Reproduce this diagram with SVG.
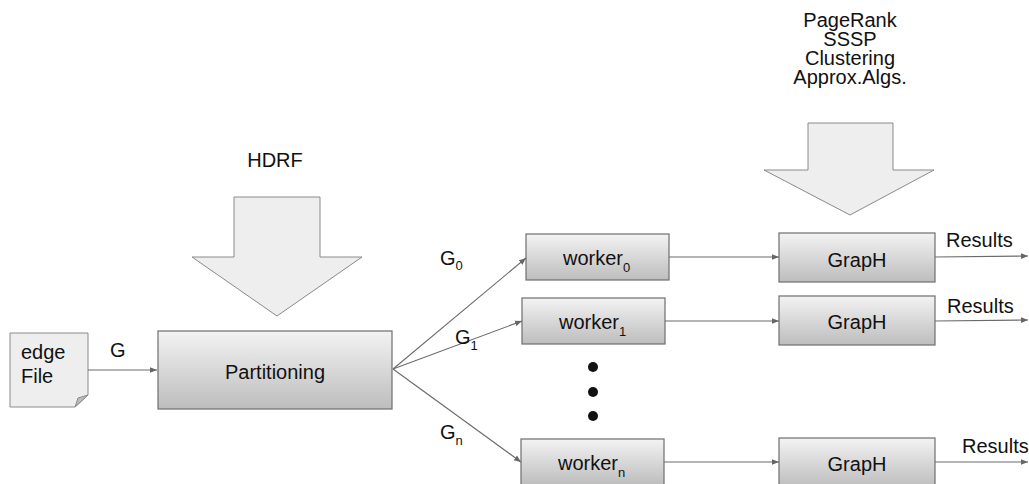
<svg xmlns="http://www.w3.org/2000/svg" width="1029" height="484" viewBox="0 0 1029 484">
  <defs>
    <linearGradient id="boxFill" x1="0" y1="0" x2="0" y2="1">
      <stop offset="0" stop-color="#f3f3f3"/>
      <stop offset="1" stop-color="#bdbdbd"/>
    </linearGradient>
    <marker id="arrow" viewBox="0 0 10 10" refX="10" refY="5" markerWidth="7" markerHeight="7" markerUnits="userSpaceOnUse" orient="auto">
      <path d="M0,1 L10,5 L0,9 Z" fill="#666"/>
    </marker>
    <style>
      .box { fill: url(#boxFill); stroke: #6e6e6e; stroke-width: 1.2; }
      .bigArrow { fill: #eeeeee; stroke: #8a8a8a; stroke-width: 1; }
      .conn { stroke: #6a6a6a; stroke-width: 1.1; fill: none; marker-end: url(#arrow); }
      text { font-family: "Liberation Sans", Arial, sans-serif; font-size: 20px; fill: #111; }
      .mid { text-anchor: middle; }
      .sub { font-size: 13px; }
    </style>
  </defs>

  <rect width="1029" height="484" fill="#ffffff"/>

  <!-- input document -->
  <g id="edgeFile">
    <path d="M10,333 H88 V395 L75,407 H10 Z" fill="#eeeeee" stroke="#8a8a8a" stroke-width="1"/>
    <path d="M88,395 L75,407 L78,398 Z" fill="#bdbdbd" stroke="#8a8a8a" stroke-width="1"/>
    <text x="21" y="359">edge</text>
    <text x="21" y="383">File</text>
  </g>

  <!-- HDRF block arrow -->
  <g id="hdrf">
    <text class="mid" x="275" y="167">HDRF</text>
    <path class="bigArrow" d="M234,197 H320 V257 H362 L277,316 L192,257 H234 Z"/>
  </g>

  <g id="partitioning">
    <rect class="box" x="158" y="331" width="234" height="78"/>
    <text class="mid" x="275" y="379">Partitioning</text>
  </g>

  <!-- algorithms block arrow -->
  <g id="algorithms">
    <text class="mid" x="850" y="27">PageRank</text>
    <text class="mid" x="850" y="46">SSSP</text>
    <text class="mid" x="850" y="65">Clustering</text>
    <text class="mid" x="850" y="84">Approx.Algs.</text>
    <path class="bigArrow" d="M808,123 H893 V170 H934 L850,215 L764,170 H808 Z"/>
  </g>

  <g id="worker0">
    <rect class="box" x="526" y="234" width="143" height="46"/>
    <text x="563" y="265">worker<tspan class="sub" dy="7">0</tspan></text>
  </g>
  <g id="worker1">
    <rect class="box" x="522" y="298" width="143" height="46"/>
    <text x="559" y="329">worker<tspan class="sub" dy="7">1</tspan></text>
  </g>
  <g id="workerN">
    <rect class="box" x="521" y="439" width="143" height="46"/>
    <text x="558" y="470">worker<tspan class="sub" dy="7">n</tspan></text>
  </g>

  <!-- ellipsis between workers -->
  <g id="ellipsis" fill="#111">
    <circle cx="593" cy="367" r="5"/>
    <circle cx="593" cy="392" r="5"/>
    <circle cx="593" cy="416" r="5"/>
  </g>

  <g id="graph0">
    <rect class="box" x="779" y="233" width="156" height="49"/>
    <text class="mid" x="857" y="267">GrapH</text>
  </g>
  <g id="graph1">
    <rect class="box" x="779" y="296" width="156" height="49"/>
    <text class="mid" x="857" y="329">GrapH</text>
  </g>
  <g id="graphN">
    <rect class="box" x="779" y="438" width="156" height="49"/>
    <text class="mid" x="857" y="471">GrapH</text>
  </g>

  <g id="connectors">
    <line class="conn" x1="88" y1="370" x2="157" y2="370"/>
    <line class="conn" x1="393" y1="369" x2="526" y2="258"/>
    <line class="conn" x1="393" y1="369" x2="522" y2="321"/>
    <line class="conn" x1="393" y1="369" x2="521" y2="462"/>
    <line class="conn" x1="669" y1="257" x2="779" y2="257"/>
    <line class="conn" x1="665" y1="321" x2="779" y2="321"/>
    <line class="conn" x1="664" y1="462" x2="779" y2="462"/>
    <line class="conn" x1="935" y1="257" x2="1028" y2="256"/>
    <line class="conn" x1="935" y1="321" x2="1028" y2="320"/>
    <line class="conn" x1="935" y1="462" x2="1028" y2="462"/>
  </g>

  <!-- connector labels -->
  <g id="labels">
    <text x="110" y="357">G</text>
    <text x="440" y="265">G<tspan class="sub" dy="5">0</tspan></text>
    <text x="455" y="344">G<tspan class="sub" dy="6">1</tspan></text>
    <text x="440" y="439">G<tspan class="sub" dy="6">n</tspan></text>
    <text x="946" y="247">Results</text>
    <text x="947" y="313">Results</text>
    <text x="962" y="453">Results</text>
  </g>
</svg>
